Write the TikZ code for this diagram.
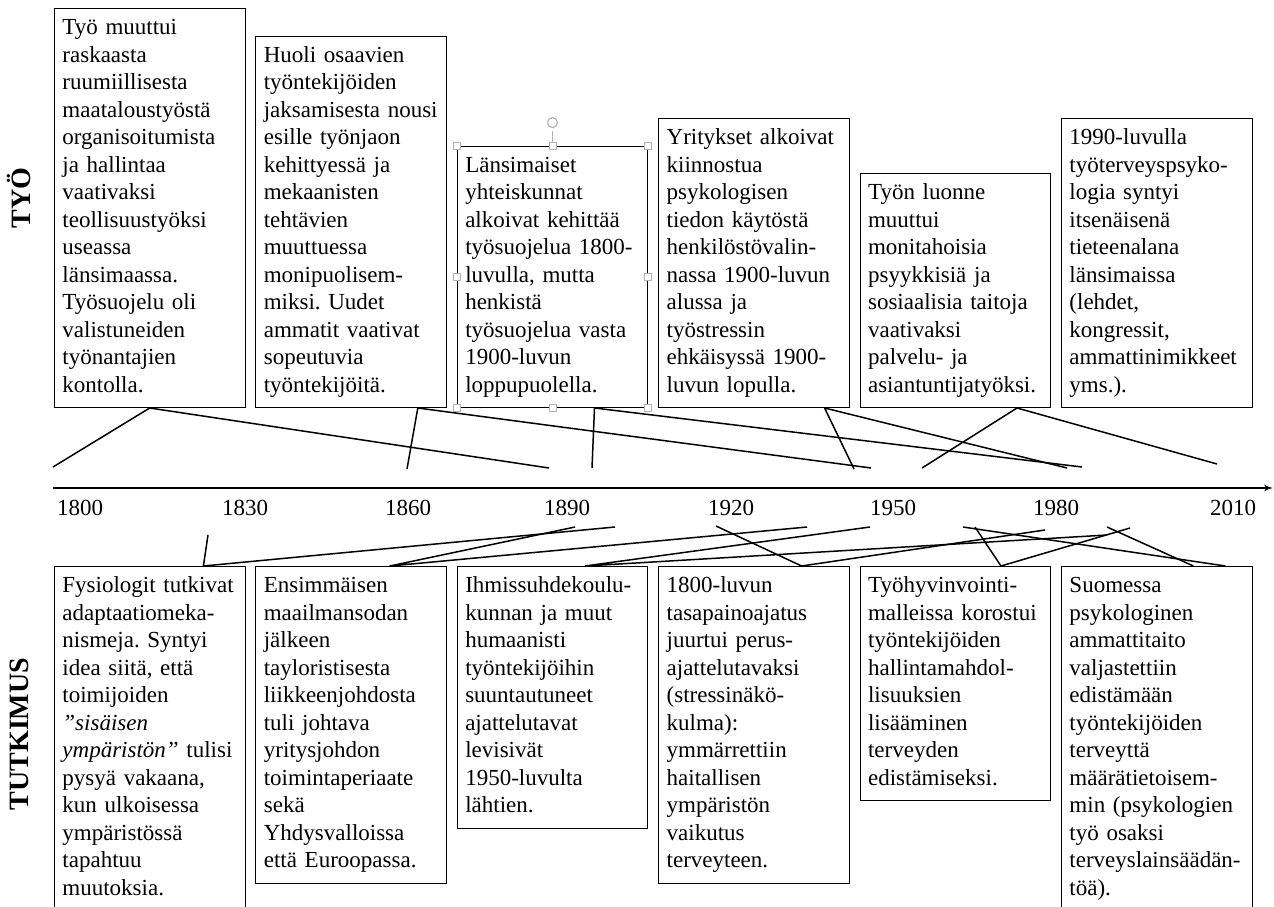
\documentclass[tikz,border=0pt]{standalone}
\usepackage{fontspec}
\setmainfont{Liberation Serif}
\usetikzlibrary{positioning,arrows,calc}
\frenchspacing
\tikzstyle{line} = [draw, line width=1.5pt, line join=round]
\tikzstyle{box} = [draw, line width=0.9pt, rectangle, text width=174.5pt, inner xsep=8pt, inner ysep=7pt, align=left, font=\fontsize{23}{27.5}\selectfont, execute at begin node=\strut, execute at end node=\strut]
\tikzstyle{year} = [font=\fontsize{23}{27.5}\selectfont]
\tikzstyle{sidelabel} = [rotate=90, font=\bfseries\fontsize{28}{30}\selectfont]
\tikzstyle{grip} = [draw=gray!60, fill=white, line width=0.8pt]

\begin{document}
\begin{tikzpicture}[x=1pt, y=-1pt]
        \path[fill=white, use as bounding box] (0,0) rectangle (1274,907);
        % work (top row)
        \node[box, anchor=south west] (t1) at (54,408) {Työ muuttui\\ raskaasta\\ ruumiillisesta\\ maataloustyöstä\\ organisoitumista\\ ja hallintaa\\ vaativaksi\\ teollisuustyöksi\\ useassa\\ länsimaassa.\\ Työsuojelu oli\\ valistuneiden\\ työnantajien\\ kontolla.};
        \node[box, right=10pt of t1.south east, anchor=south west] (t2) {Huoli osaavien\\ työntekijöiden\\ jaksamisesta nousi\\ esille työnjaon\\ kehittyessä ja\\ mekaanisten\\ tehtävien\\ muuttuessa\\ monipuolisem-\\ miksi. Uudet\\ ammatit vaativat\\ sopeutuvia\\ työntekijöitä.};
        \node[box, right=10pt of t2.south east, anchor=south west] (t3) {Länsimaiset\\ yhteiskunnat\\ alkoivat kehittää\\ työsuojelua 1800-\\ luvulla, mutta\\ henkistä\\ työsuojelua vasta\\ 1900-luvun\\ loppupuolella.};
        \node[box, right=10pt of t3.south east, anchor=south west] (t4) {Yritykset alkoivat\\ kiinnostua\\ psykologisen\\ tiedon käytöstä\\ henkilöstövalin-\\ nassa 1900-luvun\\ alussa ja\\ työstressin\\ ehkäisyssä 1900-\\ luvun lopulla.};
        \node[box, right=10pt of t4.south east, anchor=south west] (t5) {Työn luonne\\ muuttui\\ monitahoisia\\ psyykkisiä ja\\ sosiaalisia taitoja\\ vaativaksi\\ palvelu- ja\\ asiantuntijatyöksi.};
        \node[box, right=10pt of t5.south east, anchor=south west] (t6) {1990-luvulla\\ työterveyspsyko-\\ logia syntyi\\ itsenäisenä\\ tieteenalana\\ länsimaissa\\ (lehdet,\\ kongressit,\\ ammattinimikkeet\\ yms.).};
        % research (bottom row)
        \node[box, anchor=north west] (b1) at (54,566) {Fysiologit tutkivat\\ adaptaatiomeka-\\ nismeja. Syntyi\\ idea siitä, että\\ toimijoiden\\ \textit{”sisäisen}\\ \textit{ympäristön”} tulisi\\ pysyä vakaana,\\ kun ulkoisessa\\ ympäristössä\\ tapahtuu\\ muutoksia.};
        \node[box, right=10pt of b1.north east, anchor=north west] (b2) {Ensimmäisen\\ maailmansodan\\ jälkeen\\ tayloristisesta\\ liikkeenjohdosta\\ tuli johtava\\ yritysjohdon\\ toimintaperiaate\\ sekä\\ Yhdysvalloissa\\ että Euroopassa.};
        \node[box, right=10pt of b2.north east, anchor=north west] (b3) {Ihmissuhdekoulu-\\ kunnan ja muut\\ humaanisti\\ työntekijöihin\\ suuntautuneet\\ ajattelutavat\\ levisivät\\ 1950-luvulta\\ lähtien.};
        \node[box, right=10pt of b3.north east, anchor=north west] (b4) {1800-luvun\\ tasapainoajatus\\ juurtui perus-\\ ajattelutavaksi\\ (stressinäkö-\\ kulma):\\ ymmärrettiin\\ haitallisen\\ ympäristön\\ vaikutus\\ terveyteen.};
        \node[box, right=10pt of b4.north east, anchor=north west] (b5) {Työhyvinvointi-\\ malleissa korostui\\ työntekijöiden\\ hallintamahdol-\\ lisuuksien\\ lisääminen\\ terveyden\\ edistämiseksi.};
        \node[box, right=10pt of b5.north east, anchor=north west] (b6) {Suomessa\\ psykologinen\\ ammattitaito\\ valjastettiin\\ edistämään\\ työntekijöiden\\ terveyttä\\ määrätietoisem-\\ min (psykologien\\ työ osaksi\\ terveyslainsäädän-\\ töä).};
        \node[sidelabel] (tyo) at (19,198) {TYÖ};
        \node[sidelabel] (tutkimus) at (19,734) {TUTKIMUS};
        % time axis
        \coordinate (start) at (53,488);
        \coordinate (end) at (1273,488);
        \path[draw, -latex', line width=2pt] (start) -- (end);
        \node[year] (y1800) at (80,508) {1800};
        \node[year] (y1830) at (245,508) {1830};
        \node[year] (y1860) at (408,508) {1860};
        \node[year] (y1890) at (567,508) {1890};
        \node[year] (y1920) at (731,508) {1920};
        \node[year] (y1950) at (893,508) {1950};
        \node[year] (y1980) at (1056,508) {1980};
        \node[year] (y2010) at (1233,508) {2010};
        % free ends above the axis
        \coordinate (u1) at (53,467);
        \coordinate (u2) at (549,468);
        \coordinate (u3) at (407,469);
        \coordinate (u4) at (871,468);
        \coordinate (u5) at (592,468);
        \coordinate (u6) at (1082,467);
        \coordinate (u7) at (854,469);
        \coordinate (u8) at (1067,468);
        \coordinate (u9) at (922,468);
        \coordinate (u10) at (1217,464);
        \path[line] (u1) -- (t1.south) -- (u2);
        \path[line] (u3) -- ([xshift=-29pt]t2.south east) -- (u4);
        \path[line] (u5) -- ([xshift=42pt]t3.south) -- (u6);
        \path[line] (u7) -- ([xshift=-25pt]t4.south east) -- (u8);
        \path[line] (u9) -- ([xshift=-34pt]t5.south east) -- (u10);
        % free ends below the axis
        \coordinate (l1) at (208,535);
        \coordinate (l2) at (615,527);
        \coordinate (l3) at (575,527);
        \coordinate (l4) at (807,527);
        \coordinate (l5) at (870,527);
        \coordinate (l6) at (1107,535);
        \coordinate (l7) at (716,526);
        \coordinate (l8) at (1045,530);
        \coordinate (l9) at (975,527);
        \coordinate (l10) at (1130,528);
        \coordinate (l11) at (1107,527);
        \coordinate (l12) at (963,527);
        \path[line] (l1) -- ([xshift=-42pt]b1.north east) -- (l2);
        \path[line] (l3) -- ([xshift=-57pt]b2.north east) -- (l4);
        \path[line] (l5) -- ([xshift=-63pt]b3.north east) -- (l6);
        \path[line] (l7) -- ([xshift=-48pt]b4.north east) -- (l8);
        \path[line] (l9) -- ([xshift=-50pt]b5.north east) -- (l10);
        \path[line] (l11) -- ([xshift=-59pt]b6.north east);
        \path[line] (l12) -- ([xshift=-27pt]b6.north east);
        % selection frame on the third box
        \draw[draw=gray!60, line width=0.8pt] (t3.north) -- ++(0,-15);
        \draw[draw=gray!60, line width=1.2pt] ($(t3.north)+(0,-23)$) circle (5pt);
        \foreach \a in {north west,north,north east,west,east,south west,south,south east}
            \draw[grip] ($(t3.\a)+(-3.5,-3.5)$) rectangle +(7,7);
    \end{tikzpicture}
\end{document}
